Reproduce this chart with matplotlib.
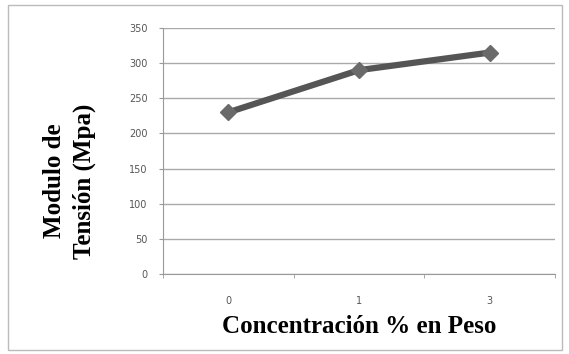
import numpy as np
import matplotlib.pyplot as plt
from matplotlib.patches import Rectangle

# data
categorias = ["0", "1", "3"]
modulo = [230, 290, 315]
y_ticks = [0, 50, 100, 150, 200, 250, 300, 350]

fig = plt.figure(figsize=(5.69, 3.54), dpi=100)
fig.patch.set_facecolor("white")

# thin frame round the whole chart
fig.patches.append(Rectangle((0.014, 0.012), 0.974, 0.975, transform=fig.transFigure,
                             fill=False, edgecolor="#bbbbbb", linewidth=1.0))

ax = fig.add_axes([0.2865, 0.226, 0.689, 0.695])
x = np.arange(len(categorias))

ax.plot(x, modulo, color="#555555", linewidth=4.5, marker="D", markersize=8.5,
        markerfacecolor="#6a6a6a", markeredgecolor="#6a6a6a", zorder=3)

ax.set_xlim(-0.5, len(categorias) - 0.5)
ax.set_ylim(0, 350)
ax.set_yticks(y_ticks)
ax.set_yticklabels([str(v) for v in y_ticks])
ax.grid(axis="y", color="#aaaaaa", linewidth=1.0)
ax.set_axisbelow(True)

ax.set_xticks(x)
ax.set_xticklabels(categorias)
ax.set_xticks([-0.5, 0.5, 1.5, 2.5], minor=True)
ax.tick_params(axis="x", which="major", length=0, pad=16)
ax.tick_params(axis="x", which="minor", length=3, color="#999999", direction="out")
ax.tick_params(axis="y", length=3, color="#999999", pad=8)
ax.tick_params(labelsize=7, labelcolor="#555555")

for s in ["top", "right"]:
    ax.spines[s].set_visible(False)
ax.spines["left"].set_color("#999999")
ax.spines["bottom"].set_color("#999999")

serif = {"family": "Liberation Serif", "weight": "bold", "size": 18}
ax.set_xlabel("Concentración % en Peso", fontdict=serif, labelpad=6)
fig.text(0.122, 0.489, "Modulo de\nTensión (Mpa)", fontdict=serif, rotation=90,
         ha="center", va="center", multialignment="center", linespacing=1.4)

fig.savefig("out.png", dpi=100)
